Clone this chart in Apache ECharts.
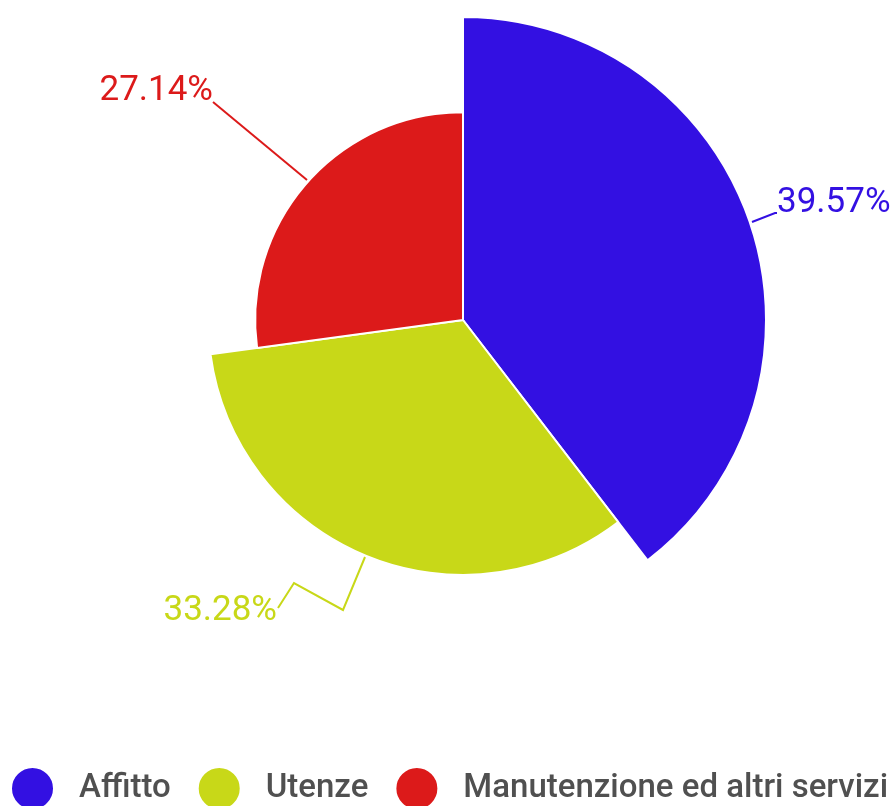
<!DOCTYPE html>
<html>
<head>
<meta charset="utf-8">
<script src="https://cdn.jsdelivr.net/npm/echarts@6/dist/echarts.min.js"></script>
<style>
  html, body { margin: 0; padding: 0; background: #fff; }
  #main { width: 894px; height: 806px; }
</style>
</head>
<body>
<div id="main"></div>
<script>
var myChart = echarts.init(document.getElementById('main'));

var categories = ['Affitto', 'Utenze', 'Manutenzione ed altri servizi'];
var values = [39.57, 33.28, 27.14];
var colors = ['#3310e2', '#c8d818', '#dc1a1a'];

// label positions (text anchor + leader line) per slice, same order as categories
var labelSpots = [
    {x: 777, y: 203, align: 'left', line: [[752, 222], [775, 213], [777, 213]]},
    {x: 277, y: 611, align: 'right', line: [[365, 557], [343, 610], [294, 583], [278, 608]]},
    {x: 213, y: 91, align: 'right', line: [[307, 180], [213, 102], [213, 102]]}
];

var pieData = [];
for (var i = 0; i < categories.length; i++) {
    pieData.push({
        name: categories[i],
        value: values[i],
        itemStyle: {color: colors[i]},
        label: {color: colors[i]},
        labelLine: {lineStyle: {color: colors[i], width: 2}}
    });
}
// zero entry so that the radius scale starts at 0
pieData.push({
    name: '_zero',
    value: 0,
    itemStyle: {color: 'transparent', borderWidth: 0},
    label: {show: false},
    labelLine: {show: false}
});

option = {
    backgroundColor: '#fff',
    legend: {
        data: categories,
        icon: 'circle',
        left: 10,
        top: 766,
        padding: 0,
        itemWidth: 43,
        itemHeight: 43,
        itemGap: 26,
        textStyle: {
            fontFamily: 'Roboto',
            fontSize: 33,
            fontWeight: 500,
            color: '#505050',
            padding: [0, 0, 0, 20]
        }
    },
    series: [
        {
            type: 'pie',
            roseType: 'radius',
            center: [463, 320],
            radius: [0, 303],
            startAngle: 90,
            clockwise: true,
            animation: false,
            itemStyle: {
                borderColor: '#fff',
                borderWidth: 2
            },
            label: {
                show: true,
                formatter: '{c}%',
                fontFamily: 'Roboto',
                fontSize: 35,
                overflow: 'none'
            },
            labelLine: {
                show: true,
                lineStyle: {width: 2}
            },
            labelLayout: function (params) {
                var s = labelSpots[params.dataIndex];
                if (!s) return {};
                return {
                    x: s.x,
                    y: s.y,
                    align: s.align,
                    verticalAlign: 'middle',
                    labelLinePoints: s.line
                };
            },
            data: pieData
        }
    ]
};

myChart.setOption(option);
</script>
</body>
</html>
